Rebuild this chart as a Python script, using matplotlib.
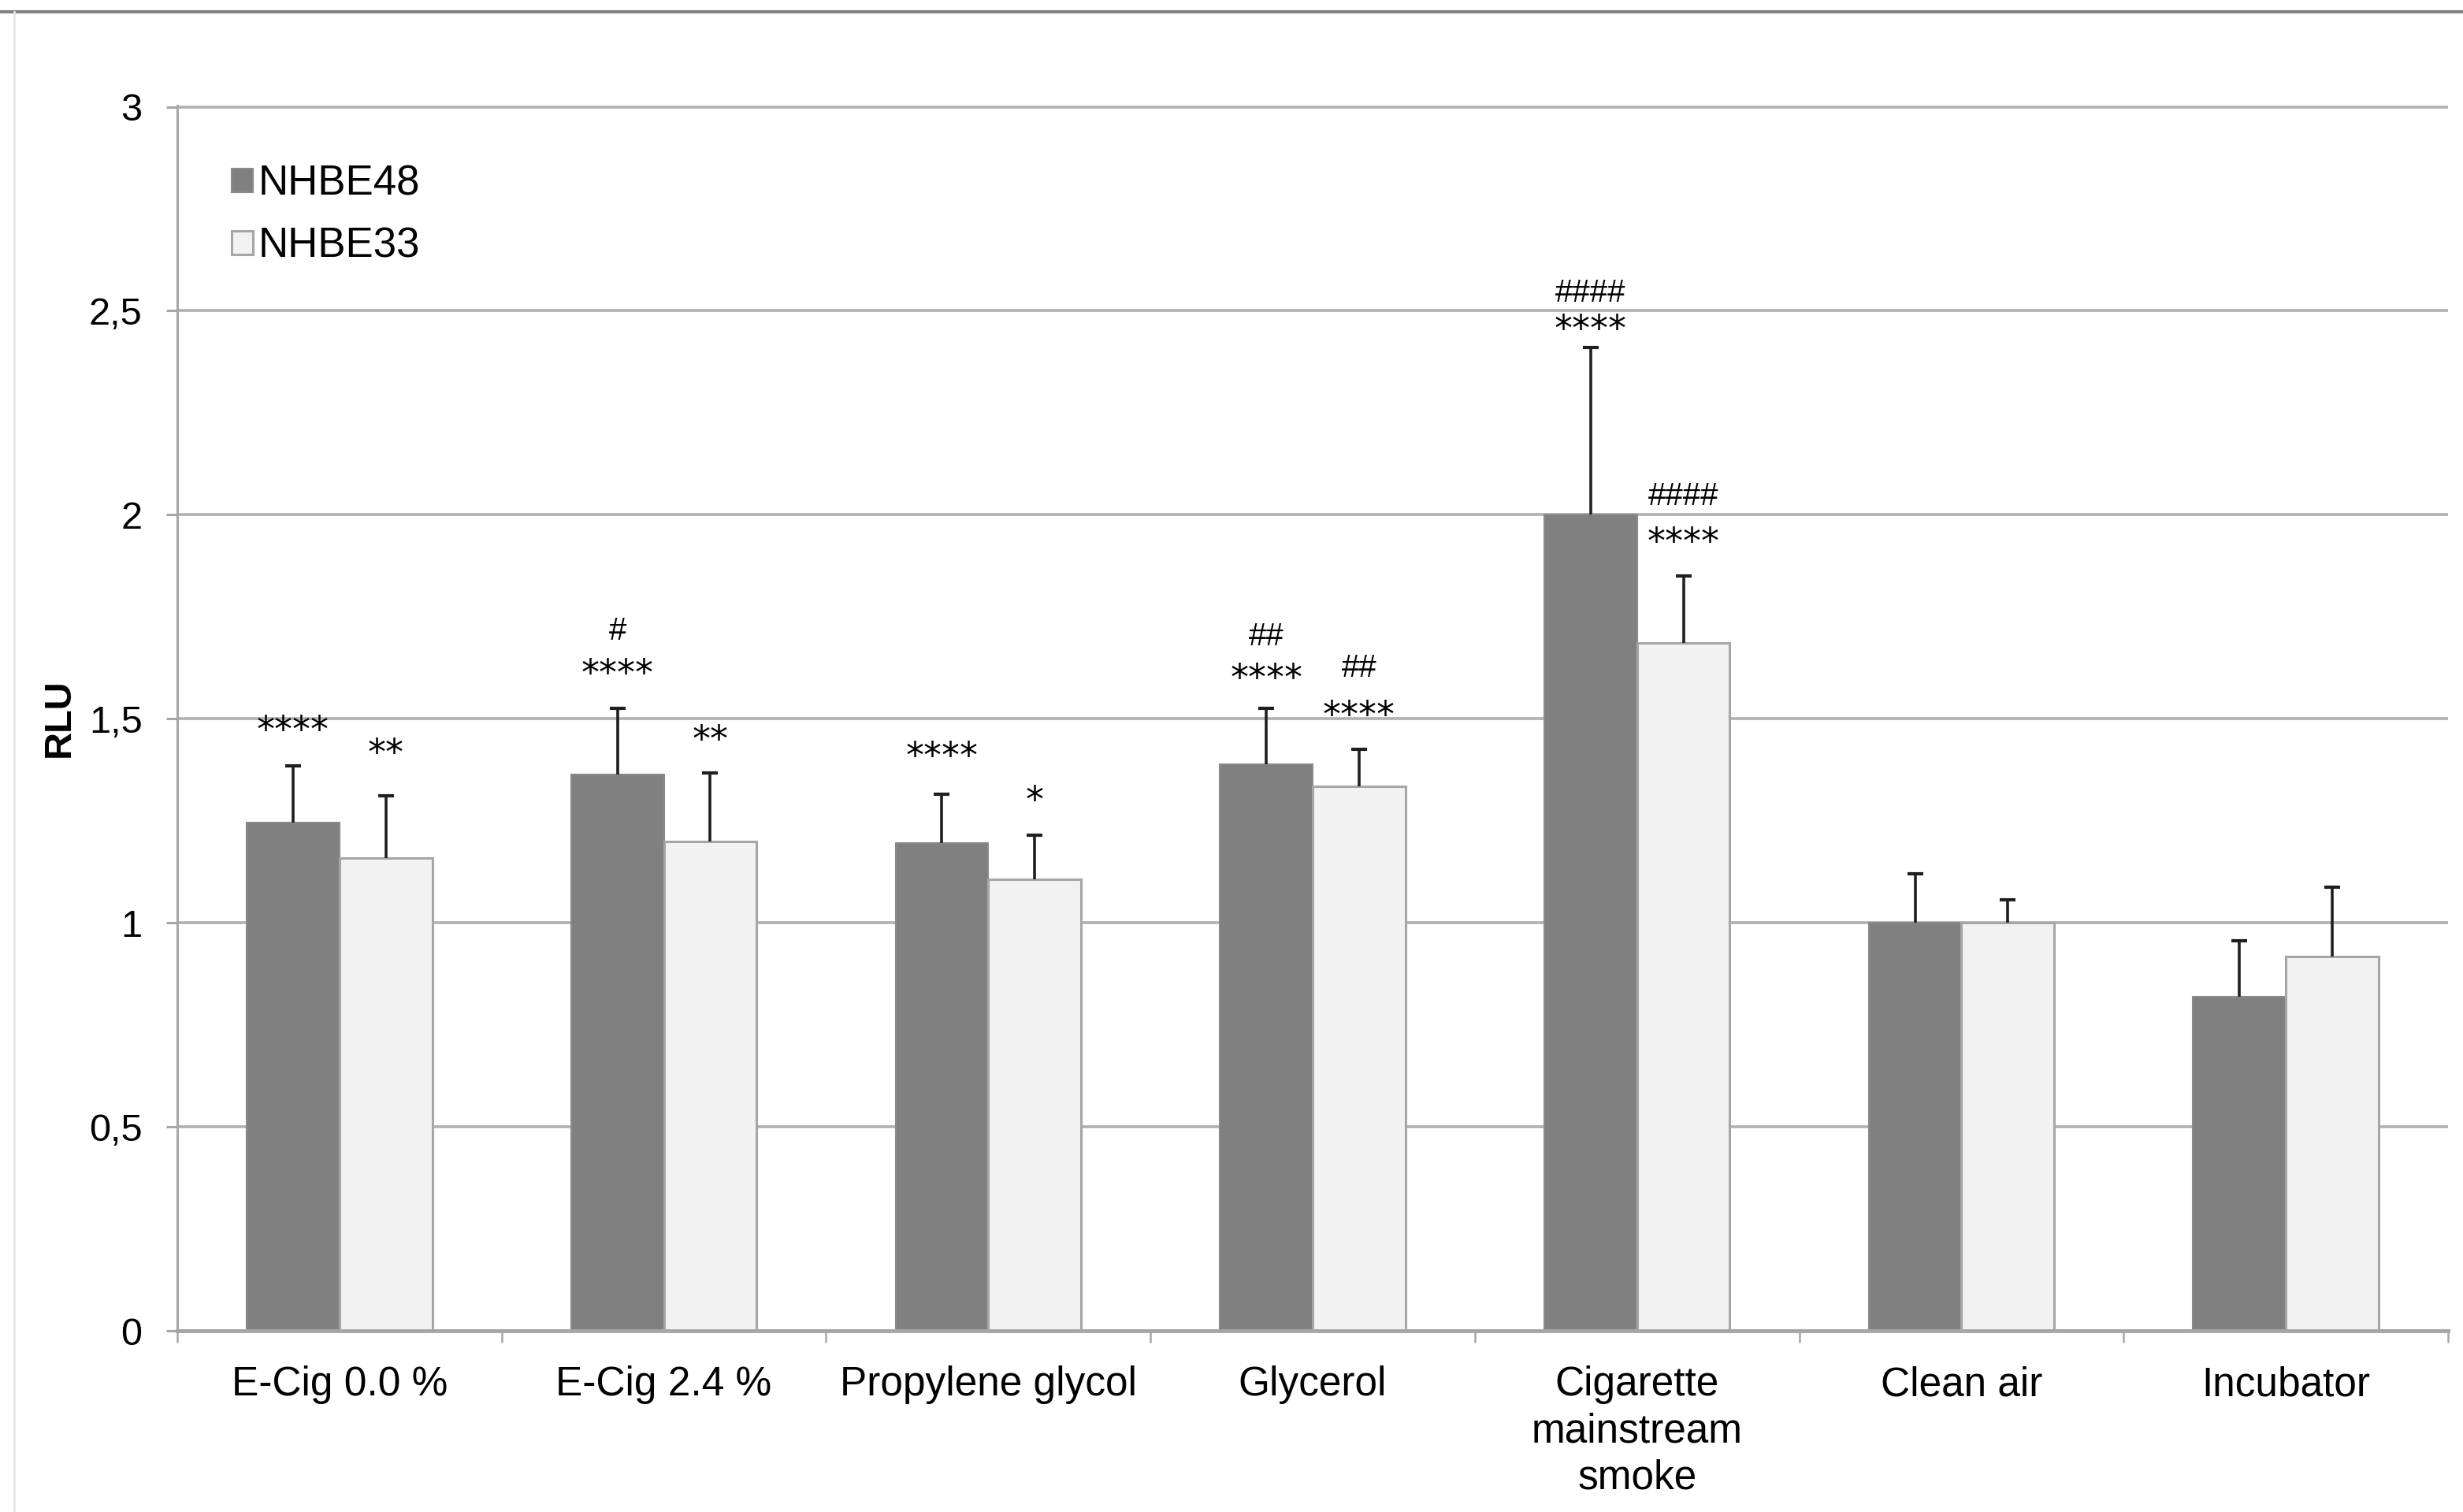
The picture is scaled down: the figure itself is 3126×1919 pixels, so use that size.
import numpy as np
import matplotlib
matplotlib.use("Agg")
import matplotlib.pyplot as plt
from matplotlib.lines import Line2D

plt.rcParams['font.family'] = ['Liberation Sans', 'DejaVu Sans']

# data
categories = ['E-Cig 0.0 %', 'E-Cig 2.4 %', 'Propylene glycol', 'Glycerol',
              'Cigarette\nmainstream\nsmoke', 'Clean air', 'Incubator']
series_names = ['NHBE48', 'NHBE33']

nhbe48 = [1.246, 1.364, 1.196, 1.388, 2.0, 1.0, 0.819]
nhbe48_err = [0.138, 0.161, 0.120, 0.137, 0.41, 0.12, 0.136]
nhbe33 = [1.159, 1.199, 1.106, 1.334, 1.685, 1.0, 0.918]
nhbe33_err = [0.152, 0.169, 0.108, 0.091, 0.165, 0.056, 0.17]

# significance marks and where they sit (RLU)
stars48 = ['****', '****', '****', '****', '****', '', '']
stars48_y = [1.483, 1.622, 1.418, 1.61, 2.465, 0, 0]
hash48 = ['', '#', '', '##', '####', '', '']
hash48_y = [0, 1.718, 0, 1.705, 2.546, 0, 0]
stars33 = ['**', '**', '*', '****', '****', '', '']
stars33_y = [1.426, 1.459, 1.31, 1.518, 1.944, 0, 0]
hash33 = ['', '', '', '##', '####', '', '']
hash33_y = [0, 0, 0, 1.626, 2.048, 0, 0]

yticks = [0, 0.5, 1, 1.5, 2, 2.5, 3]
ytick_labels = ['0', '0,5', '1', '1,5', '2', '2,5', '3']

W, H = 3126, 1919
fig = plt.figure(figsize=(W / 100, H / 100), dpi=100)
ax = fig.add_axes([225 / W, 1 - 1689 / H, 2882 / W, 1555 / H])

x = np.arange(len(categories))
bw = 0.286
dark_col = '#808080'
light_col = '#f2f2f2'
err_col = '#1f1f1f'

ax.bar(x - bw / 2, nhbe48, bw, color=dark_col, edgecolor='#8a8a8a',
       linewidth=1.5, label=series_names[0], zorder=2)
ax.bar(x + bw / 2, nhbe33, bw, color=light_col, edgecolor='#a6a6a6',
       linewidth=2.2, label=series_names[1], zorder=2)

# upper error bars only (hide the cap at the bottom end)
for xs, vals, errs in [(x - bw / 2, nhbe48, nhbe48_err), (x + bw / 2, nhbe33, nhbe33_err)]:
    eb = ax.errorbar(xs, vals, yerr=[np.zeros(len(xs)), errs], fmt='none',
                     ecolor=err_col, elinewidth=2.6, capsize=7, capthick=3, zorder=3)
    eb[1][0].set_visible(False)

def mark(xs, labels, ys, fam, size, dy):
    for xi, lab, yi in zip(xs, labels, ys):
        if lab:
            ax.annotate(lab, (xi, yi), xytext=(0, dy), textcoords='offset points',
                        ha='center', va='center', fontsize=size, family=fam,
                        color='black', zorder=4)

mark(x - bw / 2, stars48, stars48_y, 'DejaVu Sans', 33, -5)
mark(x + bw / 2, stars33, stars33_y, 'DejaVu Sans', 33, -5)
mark(x - bw / 2, hash48, hash48_y, 'Liberation Sans', 29, -1)
mark(x + bw / 2, hash33, hash33_y, 'Liberation Sans', 29, -1)

ax.set_xlim(-0.5, len(categories) - 0.5)
ax.set_ylim(0, 3.003)
ax.set_yticks(yticks)
ax.set_yticklabels(ytick_labels, fontsize=35)
ax.set_xticks(x)
ax.set_xticklabels(categories, fontsize=37, linespacing=1.27)
ax.set_xticks(np.arange(len(categories) + 1) - 0.5, minor=True)

ax.tick_params(axis='x', which='major', length=0, pad=32)
ax.tick_params(axis='x', which='minor', length=11, width=1.8, color='#a6a6a6')
ax.tick_params(axis='y', length=10, width=2.2, color='#a6a6a6', pad=22)

ax.yaxis.grid(True, color='#b0b0b0', linewidth=2.6)
ax.set_axisbelow(True)
for s in ['top', 'right']:
    ax.spines[s].set_visible(False)
ax.spines['left'].set_color('#a6a6a6')
ax.spines['left'].set_linewidth(2.2)
ax.spines['bottom'].set_color('#a6a6a6')
ax.spines['bottom'].set_linewidth(3.5)

ax.set_ylabel('RLU', fontsize=35, fontweight='bold')
ax.yaxis.set_label_coords(-0.044, 0.5)

ax.legend(loc='upper left', bbox_to_anchor=(0.024, 0.952), frameon=False,
          fontsize=38, handlelength=0.5, handleheight=0.5, handletextpad=0.13,
          labelspacing=0.55, borderpad=0, borderaxespad=0)

# outer chart frame
fig.add_artist(Line2D([0, 1], [1 - 15 / H] * 2, color='#808080', linewidth=3))
fig.add_artist(Line2D([18 / W] * 2, [0, 1 - 15 / H], color='#e6e6e6', linewidth=2))

fig.savefig('out.png', dpi=100, facecolor='white')
